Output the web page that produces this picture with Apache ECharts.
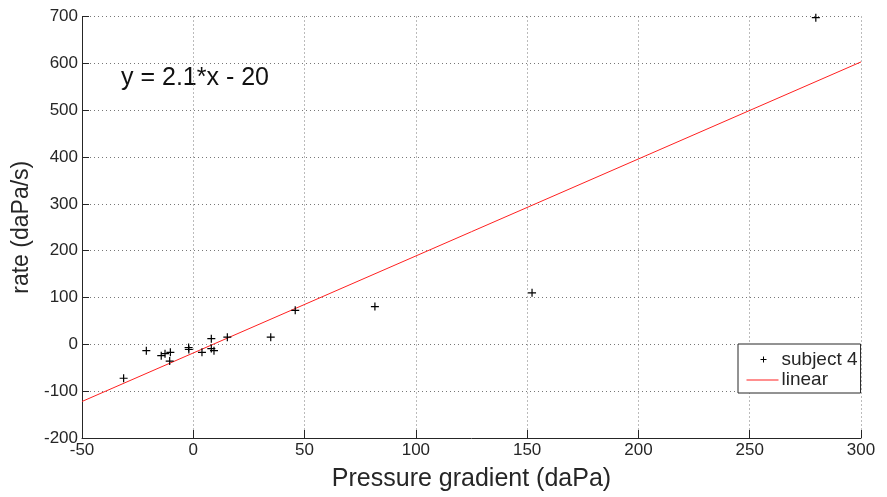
<!DOCTYPE html>
<html><head><meta charset="utf-8">
<script src="https://cdn.jsdelivr.net/npm/echarts@6/dist/echarts.min.js"></script>
<style>html,body{margin:0;padding:0;background:#fff}#c{width:887px;height:497px}</style>
</head><body><div id="c"></div>
<script>
var pressureX = [-31.3, -21.1, -14.4, -12.7, -10.3, -10.6, -2.1, -2.0, 3.9, 8.1, 8.1, 9.3, 15.3, 34.8, 45.8, 81.6, 152.2, 279.7];
var rateY     = [-72.4, -13.6, -24.2, -20.0, -17.0, -35.7, -7.0, -11.0, -17.0, 12.0, -9.0, -13.6, 15.3, 15.3, 72.7, 80.6, 110.0, 697.5];
var fitX = [-50, 300];
var fitY = [-122, 603];
var xTicks = [-50, 0, 50, 100, 150, 200, 250, 300];
var yTicks = [-200, -100, 0, 100, 200, 300, 400, 500, 600, 700];
var equationText = 'y = 2.1*x - 20';

var pts = pressureX.map(function(x, i){ return [x, rateY[i]]; });
var fit = fitX.map(function(x, i){ return [x, fitY[i]]; });
var font = 'Liberation Sans, Arial, sans-serif';
var axisCol = '#262626';
var plusIcon = 'path://M0,0 L0,0 M32,20 L32,20 M14,10 L20,10 M17,7 L17,13';
var lineIcon = 'path://M0,0 L0,0 M32,20 L32,20 M0,9.5 L32,9.5 L32,10.5 L0,10.5 Z';

var chart = echarts.init(document.getElementById('c'), null, {renderer:'canvas'});
chart.setOption({
  animation: false,
  backgroundColor: '#fff',
  grid: {left: 82, top: 16.5, right: 26, bottom: 57, containLabel: false},
  xAxis: {
    type: 'value', min: xTicks[0], max: xTicks[xTicks.length-1], interval: 50,
    name: 'Pressure gradient (daPa)', nameLocation: 'middle', nameGap: 29,
    nameTextStyle: {fontFamily: font, fontSize: 25, color: axisCol},
    axisLine: {show: true, onZero: false, lineStyle: {color: axisCol, width: 1}},
    axisTick: {show: true, inside: true, length: 8, lineStyle: {color: axisCol}},
    axisLabel: {fontFamily: font, fontSize: 17, color: axisCol, margin: 4},
    splitLine: {show: true, lineStyle: {color: '#777', type: [1, 3], width: 1}}
  },
  yAxis: {
    type: 'value', min: yTicks[0], max: yTicks[yTicks.length-1], interval: 100,
    name: 'rate (daPa/s)', nameLocation: 'middle', nameGap: 35, nameRotate: 90,
    nameTextStyle: {fontFamily: font, fontSize: 23, color: axisCol},
    axisLine: {show: true, onZero: false, lineStyle: {color: axisCol, width: 1}},
    axisTick: {show: true, inside: true, length: 7, lineStyle: {color: axisCol}},
    axisLabel: {fontFamily: font, fontSize: 17, color: axisCol, margin: 4},
    splitLine: {show: true, lineStyle: {color: '#777', type: [1, 3], width: 1}}
  },
  legend: {
    orient: 'vertical', left: 738, top: 344,
    backgroundColor: '#fff', borderColor: axisCol, borderWidth: 1,
    padding: [3, 3, 3, 6], itemGap: -2, itemWidth: 32, itemHeight: 20,
    textStyle: {fontFamily: font, fontSize: 19, lineHeight: 20, color: axisCol, padding: [0, 0, 0, -2]},
    data: [
      {name: 'subject 4', icon: plusIcon, itemStyle: {color: 'none', borderColor: '#000', borderWidth: 1}},
      {name: 'linear', icon: lineIcon, itemStyle: {color: '#ff2020', borderWidth: 0}}
    ]
  },
  graphic: [{
    type: 'text', left: 121, top: 66,
    style: {text: equationText, fontFamily: font, fontSize: 25, fill: '#111'}
  }],
  series: [
    {
      name: 'subject 4', type: 'scatter', data: pts,
      symbol: 'path://M0,5 L10,5 M5,0 L5,10', symbolSize: 8,
      itemStyle: {color: 'none', borderColor: '#000', borderWidth: 1.2, opacity: 1},
      z: 3
    },
    {
      name: 'linear', type: 'line', data: fit, showSymbol: false, symbol: 'none',
      lineStyle: {color: '#ff2020', width: 1}, itemStyle: {color: '#ff2020'}, z: 2
    }
  ]
});
</script></body></html>
